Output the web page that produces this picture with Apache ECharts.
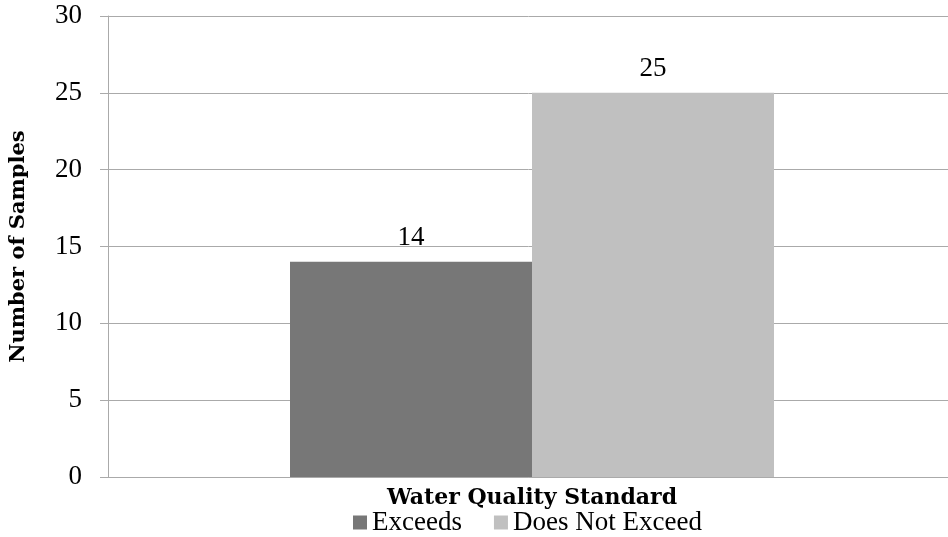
<!DOCTYPE html>
<html>
<head>
<meta charset="utf-8">
<script src="https://cdn.jsdelivr.net/npm/echarts@6/dist/echarts.min.js"></script>
<style>html,body{margin:0;padding:0;background:#fff;}#c{width:948px;height:537px;}</style>
</head>
<body>
<div id="c"></div>
<script>
const categories = ['Water Quality Standard'];
const seriesNames = ['Exceeds', 'Does Not Exceed'];
const exceedsValues = [14];
const doesNotExceedValues = [25];
const yTicks = { min: 0, max: 30, interval: 5 };

const FONT = 'Liberation Serif';
const BOLD_FONT = 'DejaVu Serif';
const chart = echarts.init(document.getElementById('c'));
chart.setOption({
  animation: false,
  textStyle: { fontFamily: FONT },
  grid: { left: 108, right: -8, top: 16, bottom: 60, containLabel: false, outerBoundsMode: 'none' },
  legend: {
    top: 509, left: 353,
    icon: 'rect', itemWidth: 14, itemHeight: 14, itemGap: 32, padding: 0,
    textStyle: { fontFamily: FONT, fontSize: 27, color: '#000' },
    data: seriesNames
  },
  xAxis: {
    type: 'category', data: categories,
    name: categories[0], nameLocation: 'middle', nameGap: 10,
    nameTextStyle: { fontFamily: BOLD_FONT, fontSize: 22, fontWeight: 'bold', color: '#000' },
    axisLabel: { show: false },
    axisTick: { show: false },
    axisLine: { lineStyle: { color: '#aaaaaa', width: 1 } }
  },
  yAxis: {
    type: 'value', min: yTicks.min, max: yTicks.max, interval: yTicks.interval,
    name: 'Number of Samples', nameLocation: 'middle', nameGap: 79,
    nameTextStyle: { fontFamily: BOLD_FONT, fontSize: 21, fontWeight: 'bold', color: '#000' },
    axisLabel: { fontFamily: FONT, fontSize: 27, color: '#000', margin: 26, padding: [5, 0, 0, 0] },
    axisLine: { show: true, lineStyle: { color: '#aaaaaa' } },
    axisTick: { show: true, length: 8, lineStyle: { color: '#aaaaaa' } },
    splitLine: { lineStyle: { color: '#aaaaaa' } }
  },
  series: [
    { name: seriesNames[0], type: 'bar', data: exceedsValues, barWidth: 242, barGap: '0%',
      itemStyle: { color: '#777777' },
      label: { show: true, position: 'top', distance: 10, fontFamily: FONT, fontSize: 27, color: '#000' } },
    { name: seriesNames[1], type: 'bar', data: doesNotExceedValues, barWidth: 242, barGap: '0%',
      itemStyle: { color: '#c0c0c0' },
      label: { show: true, position: 'top', distance: 10, fontFamily: FONT, fontSize: 27, color: '#000' } }
  ]
});
</script>
</body>
</html>
